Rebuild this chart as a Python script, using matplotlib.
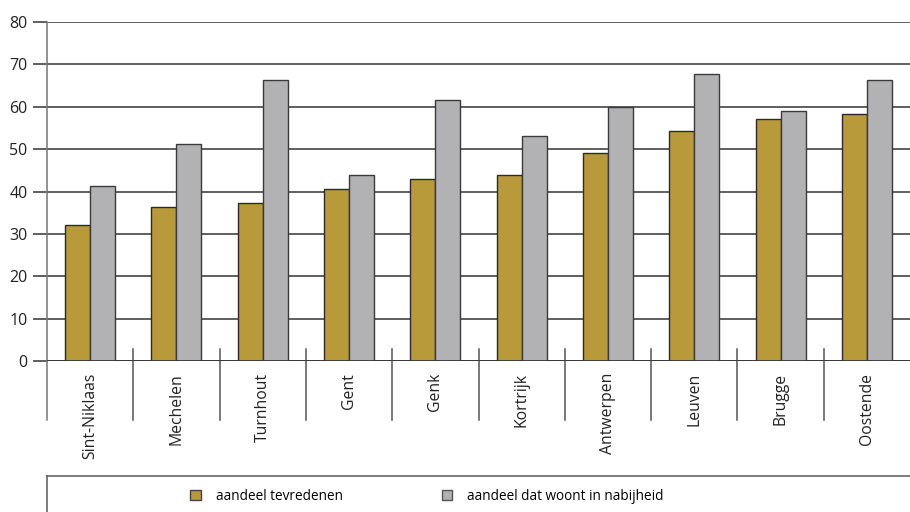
import matplotlib
matplotlib.use("Agg")
from matplotlib import pyplot as plt
from matplotlib.patches import Patch
import numpy as np

# Data #
steden = ["Sint-Niklaas", "Mechelen", "Turnhout", "Gent", "Genk",
          "Kortrijk", "Antwerpen", "Leuven", "Brugge", "Oostende"]
tevreden = [32.1, 36.3, 37.3, 40.6, 43.0, 43.8, 49.2, 54.2, 57.2, 58.2]
nabijheid = [41.4, 51.1, 66.3, 44.0, 61.5, 53.0, 60.0, 67.7, 59.1, 66.4]
reeksen = ["aandeel tevredenen", "aandeel dat woont in nabijheid"]

kleur_goud = "#b89a3a"
kleur_grijs = "#b2b2b4"

plt.rcParams['font.family'] = ['Open Sans', 'DejaVu Sans']

fig = plt.figure(figsize=(9.1, 5.12), dpi=100)
ax = fig.add_axes([47/910, 1-361/512, 1-47/910, (361-22)/512])

# Bars #
x = np.arange(len(steden))
w = 0.29
ax.bar(x - w/2, tevreden, w, color=kleur_goud, edgecolor="#2a2a2a", linewidth=1, zorder=3)
ax.bar(x + w/2, nabijheid, w, color=kleur_grijs, edgecolor="#3a3a3a", linewidth=1, zorder=3)

# Axes #
ax.set_xlim(-0.5, len(steden) - 0.5)
ax.set_ylim(0, 80)
ax.set_yticks(range(0, 81, 10))
ax.yaxis.grid(True, color="#333333", linewidth=1.1, zorder=1)
ax.tick_params(axis='y', length=10, width=1.1, color="#333333", labelsize=11.5, pad=4, labelcolor="#222222")
for s in ["top", "right", "bottom"]:
    ax.spines[s].set_visible(False)
ax.spines["left"].set_color("#777777")
ax.spines["left"].set_linewidth(1.1)
ax.axhline(0, color="#333333", linewidth=1.2, zorder=4)

# Category labels #
ax.set_xticks([])
for i, naam in enumerate(steden):
    ax.text(i, -0.035, naam, transform=ax.get_xaxis_transform(), rotation=90,
            ha="center", va="top", fontsize=11.3, color="#222222")

# Separators between categories #
trans = ax.get_xaxis_transform()
ax.plot([-0.5, -0.5], [0, -0.174], transform=trans, color="#777777", lw=1.1, clip_on=False)
for i in range(1, len(steden)):
    ax.plot([i - 0.5, i - 0.5], [0.035, -0.174], transform=trans, color="#555555", lw=1.1, clip_on=False)

# Legend box #
fig.add_artist(plt.Line2D([47/910, 1], [1-476/512, 1-476/512], color="#666666", lw=1.2))
fig.add_artist(plt.Line2D([47/910, 47/910], [0, 1-476/512], color="#666666", lw=1.2))

handles = [Patch(facecolor=kleur_goud, edgecolor="#444444", label=reeksen[0]),
           Patch(facecolor=kleur_grijs, edgecolor="#555555", label=reeksen[1])]
fig.legend(handles=handles, loc="center", bbox_to_anchor=(427/910, 1-496/512), ncol=2,
           frameon=False, handlelength=0.76, handleheight=0.76, handletextpad=1.1,
           columnspacing=7.3, fontsize=9.8)

fig.savefig("out.png", dpi=100)
